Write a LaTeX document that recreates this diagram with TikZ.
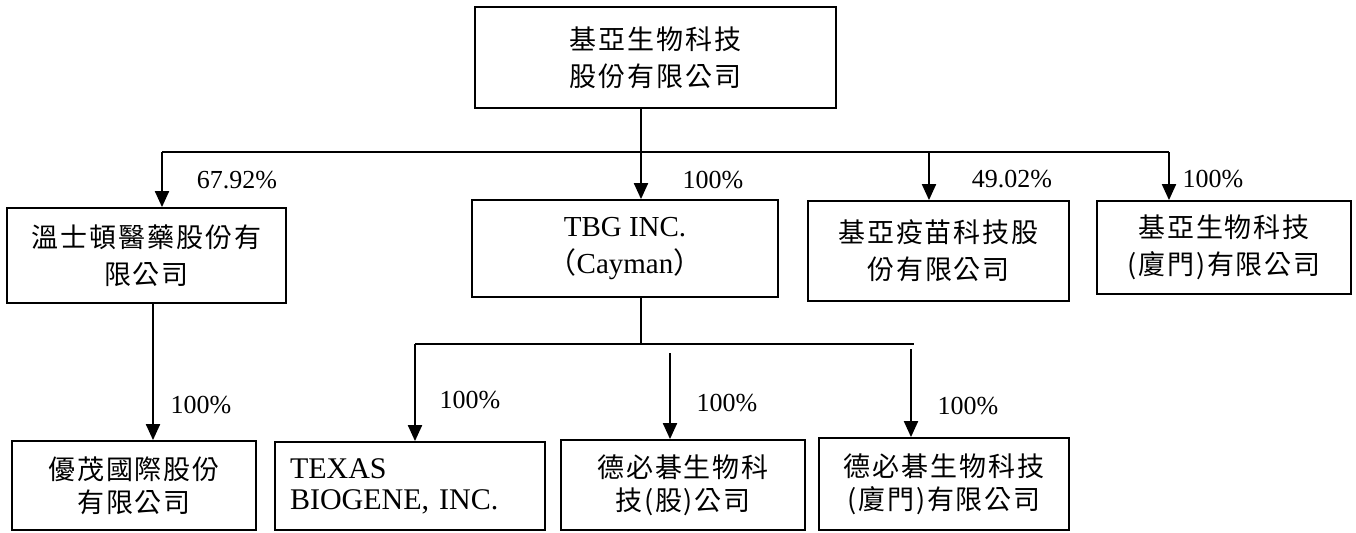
\documentclass[tikz,border=0pt]{standalone}
\usepackage{fontspec}
\setmainfont{Liberation Serif}
\newfontfamily\cjk[LetterSpace=7]{Noto Sans CJK TC}
\usepackage{tikz}
\usetikzlibrary{arrows.meta}

\tikzset{
	box/.style={draw,line width=0.9pt,inner sep=0pt,align=center,font=\cjk\fontsize{13.5}{18.5}\selectfont},
	lowbox/.style={box,font=\cjk\fontsize{13.5}{16.5}\selectfont},
	pct/.style={inner sep=0pt,font=\fontsize{13}{15}\selectfont},
	con/.style={line width=0.8pt},
	arr/.style={line width=1pt,-{Triangle[length=8pt,width=7pt]}},
}

\begin{document}
\begin{tikzpicture}[x=0.5pt,y=-0.5pt]
	\useasboundingbox (0,0) rectangle (1356,532);
	\node[box,minimum width=180.5pt,minimum height=50.5pt] (top) at (655.5,57.5) {基亞生物科技\\股份有限公司};
	\node[box,minimum width=139.5pt,minimum height=47.5pt] (wsd) at (146.5,255.5) {溫士頓醫藥股份有\\限公司};
	\node[box,minimum width=153pt,minimum height=48.5pt,font=\fontsize{14.5}{18.5}\selectfont] (tbg) at (625,248.5) {TBG INC.\\{\cjk （}Cayman{\cjk ）}};
	\node[box,minimum width=130.5pt,minimum height=50pt] (ym) at (938.5,251) {基亞疫苗科技股\\份有限公司};
	\node[box,minimum width=127pt,minimum height=46.5pt] (xm) at (1224,247.5) {基亞生物科技\\(廈門)有限公司};
	\node[lowbox,minimum width=122pt,minimum height=44.5pt] (yom) at (134,485.5) {優茂國際股份\\有限公司};
	\node[lowbox,align=left,text width=120pt,inner xsep=7.5pt,minimum height=44pt,font=\fontsize{15}{15.5}\selectfont] (texas) at (410,486) {TEXAS\\BIOGENE, INC.};
	\node[lowbox,minimum width=122pt,minimum height=45pt] (dbj) at (683,485) {德必碁生物科\\技(股)公司};
	\node[lowbox,minimum width=125pt,minimum height=46pt] (dbjxm) at (944,484) {德必碁生物科技\\(廈門)有限公司};

	\coordinate (a1) at (162,152);
	\coordinate (a2) at (641,152);
	\coordinate (a3) at (929,152);
	\coordinate (a4) at (1169,152);
	\draw[con] (a1) -- (a4);
	\draw[con] (a2 |- top.south) -- (a2);
	\foreach \pa/\pb in {a1/wsd,a2/tbg,a3/ym,a4/xm}
		\draw[arr] (\pa) -- (\pa |- \pb.north);

	\coordinate (b1) at (153,303);
	\draw[arr] (b1 |- wsd.south) -- (b1 |- yom.north);

	\coordinate (c0) at (641,344);
	\coordinate (c1) at (415,344);
	\coordinate (c2) at (670,353);
	\coordinate (c3) at (911,349);
	\coordinate (c4) at (914,344);
	\draw[con] (a2 |- tbg.south) -- (c0);
	\draw[con] (c1) -- (c4);
	\foreach \pa/\pb in {c1/texas,c2/dbj,c3/dbjxm}
		\draw[arr] (\pa) -- (\pa |- \pb.north);

	\node[pct] (p1) at (237,180) {67.92\%};
	\node[pct] (p2) at (713,180) {100\%};
	\node[pct] (p3) at (1012,179) {49.02\%};
	\node[pct] (p4) at (1213,179) {100\%};
	\node[pct] (p5) at (201,405) {100\%};
	\node[pct] (p6) at (470,400) {100\%};
	\node[pct] (p7) at (727,403) {100\%};
	\node[pct] (p8) at (968,406) {100\%};
\end{tikzpicture}
\end{document}
